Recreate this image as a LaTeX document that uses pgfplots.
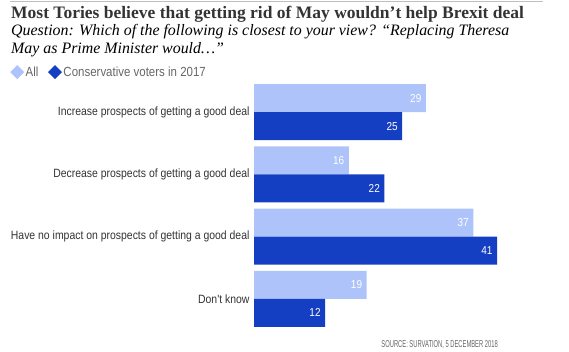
\documentclass[border=0pt]{standalone}
\usepackage{pgfplots}
\pgfplotsset{compat=1.18}
\usepackage{fontspec}
\setmainfont{Liberation Sans}
\newfontfamily\titlefont{Liberation Serif}
\newfontfamily\cond[FakeStretch=0.87]{Liberation Sans}
\newfontfamily\condsrc[FakeStretch=0.58]{Liberation Sans}
\definecolor{lightbar}{HTML}{ADC3FA}
\definecolor{darkbar}{HTML}{153FC2}
\definecolor{txt}{HTML}{333333}
\definecolor{graytxt}{HTML}{666666}
\begin{document}
\begin{tikzpicture}[x=1pt,y=1pt]
\path (0,0) rectangle (569,-351);
\draw[black!25, line width=0.8pt] (10,-1) -- (543,-1);
\node[anchor=base west, inner sep=0, font=\titlefont\bfseries\fontsize{17.5}{19}\selectfont, text=txt] at (11,-18) {Most Tories believe that getting rid of May wouldn’t help Brexit deal};
\node[anchor=base west, inner sep=0, font=\titlefont\itshape\fontsize{15.9}{17}\selectfont, text=black] at (11,-35) {Question: Which of the following is closest to your view? “Replacing Theresa};
\node[anchor=base west, inner sep=0, font=\titlefont\itshape\fontsize{15.9}{17}\selectfont, text=black] at (11,-53) {May as Prime Minister would\ldots”};
\node[anchor=base east, inner sep=0, font=\condsrc\fontsize{10}{12}\selectfont, text=graytxt] at (498,-347) {SOURCE: SURVATION, 5 DECEMBER 2018};
\begin{axis}[
  at={(254pt,-330pt)}, anchor=south west,
  scale only axis, width=243pt, height=249pt,
  xbar, bar width=28pt,
  xmin=0, xmax=41,
  ymin=-0.5, ymax=3.5,
  ytick={0,1,2,3},
  yticklabels={Don't know,Have no impact on prospects of getting a good deal,Decrease prospects of getting a good deal,Increase prospects of getting a good deal},
  yticklabel style={font=\cond\fontsize{12}{14}\selectfont, text=txt, xshift=-1pt},
  xtick=\empty,
  axis line style={draw=none},
  major tick length=0pt,
  clip=false,
  legend style={at={(-1.004,1.036)}, anchor=west, draw=none, fill=none, font=\cond\fontsize{13.2}{15}\selectfont, text=graytxt, legend columns=-1, /tikz/every even column/.append style={column sep=8pt}, inner sep=0pt, nodes={inner sep=1.5pt}},
  every axis plot/.append style={legend image code/.code={\fill[##1] (0pt,0pt) -- (7pt,7pt) -- (14pt,0pt) -- (7pt,-7pt) -- cycle;}},
  nodes near coords,
  nodes near coords style={anchor=east, text=white, font=\cond\fontsize{11.5}{13}\selectfont, xshift=-1pt, /pgf/number format/assume math mode=true},
]
\addplot[fill=lightbar, draw=none, bar shift=14pt] coordinates {(19,0) (37,1) (16,2) (29,3)};
\addlegendentry{All}
\addplot[fill=darkbar, draw=none, bar shift=-14pt] coordinates {(12,0) (41,1) (22,2) (25,3)};
\addlegendentry{Conservative voters in 2017}
\end{axis}
\end{tikzpicture}
\end{document}
